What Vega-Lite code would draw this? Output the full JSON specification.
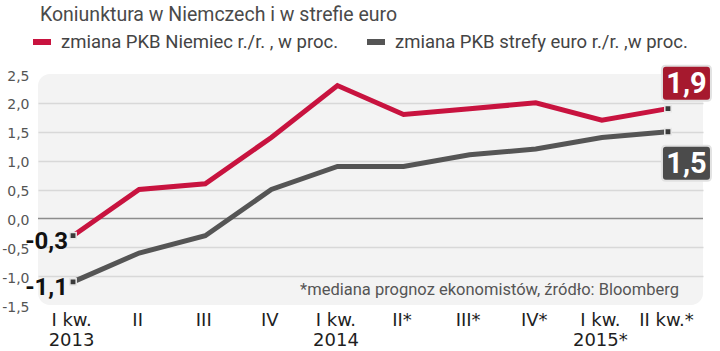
{
  "$schema": "https://vega.github.io/schema/vega-lite/v6.json",
  "width": 665,
  "height": 231,
  "autosize": {"type": "none"},
  "padding": {"left": 38, "top": 74, "right": 17, "bottom": 46},
  "background": "white",
  "title": {
    "text": "Koniunktura w Niemczech i w strefie euro",
    "anchor": "start",
    "frame": "group",
    "font": "Roboto",
    "fontSize": 19.5,
    "fontWeight": "normal",
    "color": "#4a4a4a",
    "baseline": "alphabetic",
    "offset": -10,
    "dx": 2
  },
  "config": {
    "view": {"fill": "#f3f3f3", "stroke": null, "cornerRadius": 12},
    "legend": {
      "orient": "none",
      "legendX": -8,
      "legendY": -44,
      "direction": "horizontal",
      "title": null,
      "symbolType": "stroke",
      "symbolStrokeWidth": 6,
      "symbolSize": 324,
      "labelFont": "Roboto",
      "labelFontSize": 18.5,
      "labelColor": "#444444",
      "labelOffset": 7,
      "columnPadding": 16,
      "labelLimit": 400
    }
  },
  "data": {
    "values": [
      {"q": "I kw.|2013", "series": "zmiana PKB Niemiec r./r. , w proc.", "v": -0.3},
      {"q": "II", "series": "zmiana PKB Niemiec r./r. , w proc.", "v": 0.5},
      {"q": "III", "series": "zmiana PKB Niemiec r./r. , w proc.", "v": 0.6},
      {"q": "IV", "series": "zmiana PKB Niemiec r./r. , w proc.", "v": 1.4},
      {"q": "I kw.|2014", "series": "zmiana PKB Niemiec r./r. , w proc.", "v": 2.3},
      {"q": "II*", "series": "zmiana PKB Niemiec r./r. , w proc.", "v": 1.8},
      {"q": "III*", "series": "zmiana PKB Niemiec r./r. , w proc.", "v": 1.9},
      {"q": "IV*", "series": "zmiana PKB Niemiec r./r. , w proc.", "v": 2.0},
      {"q": "I kw.|2015*", "series": "zmiana PKB Niemiec r./r. , w proc.", "v": 1.7},
      {"q": "II kw.*", "series": "zmiana PKB Niemiec r./r. , w proc.", "v": 1.9},
      {"q": "I kw.|2013", "series": "zmiana PKB strefy euro r./r. ,w proc.", "v": -1.1},
      {"q": "II", "series": "zmiana PKB strefy euro r./r. ,w proc.", "v": -0.6},
      {"q": "III", "series": "zmiana PKB strefy euro r./r. ,w proc.", "v": -0.3},
      {"q": "IV", "series": "zmiana PKB strefy euro r./r. ,w proc.", "v": 0.5},
      {"q": "I kw.|2014", "series": "zmiana PKB strefy euro r./r. ,w proc.", "v": 0.9},
      {"q": "II*", "series": "zmiana PKB strefy euro r./r. ,w proc.", "v": 0.9},
      {"q": "III*", "series": "zmiana PKB strefy euro r./r. ,w proc.", "v": 1.1},
      {"q": "IV*", "series": "zmiana PKB strefy euro r./r. ,w proc.", "v": 1.2},
      {"q": "I kw.|2015*", "series": "zmiana PKB strefy euro r./r. ,w proc.", "v": 1.4},
      {"q": "II kw.*", "series": "zmiana PKB strefy euro r./r. ,w proc.", "v": 1.5}
    ]
  },
  "transform": [
    {"calculate": "replace(replace(format(datum.v, '.1f'), '.', ','), '\u2212', '-')", "as": "lbl"}
  ],
  "encoding": {
    "x": {
      "field": "q",
      "type": "nominal",
      "scale": {
        "type": "point",
        "padding": 0.53,
        "domain": ["I kw.|2013", "II", "III", "IV", "I kw.|2014", "II*", "III*", "IV*", "I kw.|2015*", "II kw.*"]
      },
      "axis": {
        "title": null,
        "domain": false,
        "ticks": false,
        "grid": false,
        "labelAngle": 0,
        "labelFont": "DejaVu Sans",
        "labelFontSize": 18,
        "labelColor": "#1e1e1e",
        "labelPadding": 6,
        "labelLineHeight": 20,
        "labelOverlap": false,
        "labelBound": false,
        "labelOffset": -2,
        "labelExpr": "split(datum.label, '|')"
      }
    },
    "y": {
      "field": "v",
      "type": "quantitative",
      "scale": {"domain": [-1.5, 2.5], "nice": false, "zero": false},
      "axis": {
        "title": null,
        "domain": false,
        "ticks": false,
        "values": [-1.5, -1, -0.5, 0, 0.5, 1, 1.5, 2, 2.5],
        "labelFont": "DejaVu Sans",
        "labelFontSize": 14,
        "labelColor": "#555555",
        "labelPadding": 9,
        "labelOffset": 2,
        "labelExpr": "replace(replace(format(datum.value, '.1f'), '.', ','), '\u2212', '-')",
        "gridWidth": 1.5,
        "gridColor": {"condition": {"test": "datum.value == 2.5 || datum.value == -1.5 || datum.value == 0", "value": "transparent"}, "value": "#d8d8d8"}
      }
    }
  },
  "layer": [
    {
      "transform": [{"filter": {"field": "v", "equal": -0.3}}, {"filter": {"field": "q", "equal": "I kw.|2013"}}],
      "mark": {"type": "rule", "color": "#8c8c8c", "strokeWidth": 1.5},
      "encoding": {"y": {"datum": 0}, "x": null}
    },
    {
      "transform": [{"filter": {"field": "v", "equal": -0.3}}, {"filter": {"field": "q", "equal": "I kw.|2013"}}],
      "mark": {"type": "text", "align": "right", "baseline": "alphabetic", "dx": 11, "dy": -10, "font": "Roboto", "fontSize": 16.5, "color": "#555555"},
      "encoding": {"x": {"datum": "II kw.*"}, "y": {"datum": -1.5}, "text": {"value": "*mediana prognoz ekonomistów, źródło: Bloomberg"}}
    },
    {
      "mark": {"type": "line", "strokeWidth": 5, "strokeJoin": "miter"},
      "encoding": {
        "color": {
          "field": "series",
          "type": "nominal",
          "scale": {
            "domain": ["zmiana PKB Niemiec r./r. , w proc.", "zmiana PKB strefy euro r./r. ,w proc."],
            "range": ["#c8133f", "#555555"]
          }
        }
      }
    },
    {
      "transform": [{"filter": {"field": "q", "oneOf": ["I kw.|2013", "II kw.*"]}}],
      "mark": {"type": "point", "shape": "square", "size": 40, "filled": true, "fill": "#3a3a3a", "stroke": "#e8e8e8", "strokeWidth": 1.5, "opacity": 1}
    },
    {
      "transform": [{"filter": {"field": "q", "equal": "I kw.|2013"}}],
      "mark": {"type": "text", "align": "right", "baseline": "middle", "dx": -5, "dy": 6, "font": "Roboto", "fontWeight": "bold", "fontSize": 24, "color": "#111111"},
      "encoding": {"text": {"field": "lbl"}}
    },
    {
      "transform": [{"filter": {"field": "q", "equal": "II kw.*"}}, {"filter": {"field": "series", "equal": "zmiana PKB Niemiec r./r. , w proc."}}],
      "layer": [
        {
          "mark": {"type": "point", "shape": "M-0.84,-0.714L0.84,-0.714Q1,-0.714 1,-0.55L1,0.55Q1,0.714 0.84,0.714L-0.84,0.714Q-1,0.714 -1,0.55L-1,-0.55Q-1,-0.714 -0.84,-0.714Z", "size": 2401, "filled": true, "fill": "#a6192e", "stroke": "#e2e2e2", "strokeWidth": 2, "opacity": 1, "xOffset": 18.5, "yOffset": -25.5}
        },
        {
          "mark": {"type": "text", "align": "center", "baseline": "middle", "dx": 18.5, "dy": -24.5, "font": "Roboto", "fontWeight": "bold", "fontSize": 29, "color": "white"},
          "encoding": {"text": {"field": "lbl"}}
        }
      ]
    },
    {
      "transform": [{"filter": {"field": "q", "equal": "II kw.*"}}, {"filter": {"field": "series", "equal": "zmiana PKB strefy euro r./r. ,w proc."}}],
      "layer": [
        {
          "mark": {"type": "point", "shape": "M-0.84,-0.714L0.84,-0.714Q1,-0.714 1,-0.55L1,0.55Q1,0.714 0.84,0.714L-0.84,0.714Q-1,0.714 -1,0.55L-1,-0.55Q-1,-0.714 -0.84,-0.714Z", "size": 2401, "filled": true, "fill": "#4b4b4b", "stroke": "#e2e2e2", "strokeWidth": 2, "opacity": 1, "xOffset": 18.5, "yOffset": 31.5}
        },
        {
          "mark": {"type": "text", "align": "center", "baseline": "middle", "dx": 18.5, "dy": 32.5, "font": "Roboto", "fontWeight": "bold", "fontSize": 29, "color": "white"},
          "encoding": {"text": {"field": "lbl"}}
        }
      ]
    }
  ]
}
